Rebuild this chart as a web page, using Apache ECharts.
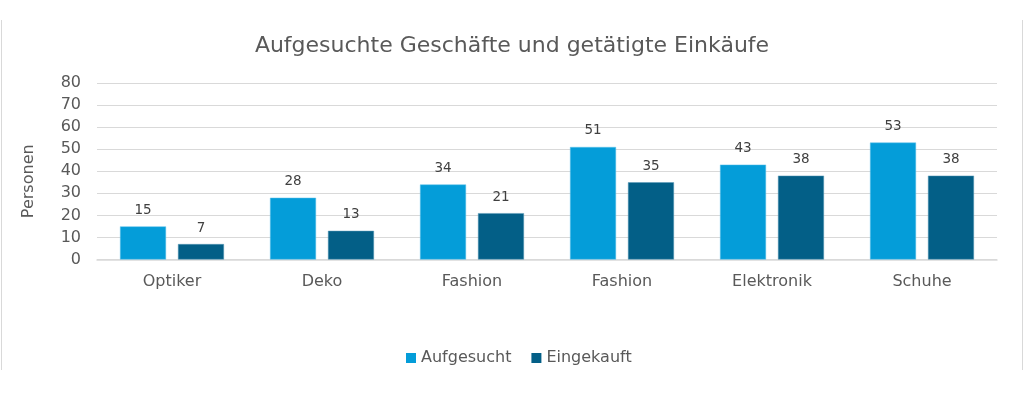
<!DOCTYPE html>
<html>
<head>
<meta charset="utf-8">
<script src="https://cdn.jsdelivr.net/npm/echarts@6/dist/echarts.min.js"></script>
<style>
html,body{margin:0;padding:0;background:#fff;}
#chart{width:1024px;height:399px;}
</style>
</head>
<body>
<div id="chart"></div>
<script>
const categories = ['Optiker', 'Deko', 'Fashion', 'Fashion', 'Elektronik', 'Schuhe'];
const aufgesucht = [15, 28, 34, 51, 43, 53];
const eingekauft = [7, 13, 21, 35, 38, 38];
const yTicks = [0, 10, 20, 30, 40, 50, 60, 70, 80];

const FONT = '"DejaVu Sans", Verdana, sans-serif';
const chart = echarts.init(document.getElementById('chart'), null, {renderer: 'canvas'});
chart.setOption({
  animation: false,
  backgroundColor: '#ffffff',
  textStyle: {fontFamily: FONT},
  title: {
    text: 'Aufgesuchte Geschäfte und getätigte Einkäufe',
    left: 'center',
    top: 30,
    textStyle: {fontFamily: FONT, fontSize: 22, fontWeight: 'normal', color: '#595959'}
  },
  legend: {
    data: ['Aufgesucht', 'Eingekauft'],
    left: 401,
    top: 345,
    itemWidth: 10,
    itemHeight: 10,
    itemGap: 20,
    icon: 'rect',
    itemStyle: {borderWidth: 0},
    textStyle: {fontFamily: FONT, fontSize: 16, color: '#595959'}
  },
  grid: {left: 97, right: 27, top: 83, bottom: 139.5, containLabel: false},
  xAxis: {
    type: 'category',
    data: categories,
    axisTick: {show: false},
    axisLine: {lineStyle: {color: '#d9d9d9', width: 1.5}},
    axisLabel: {fontFamily: FONT, fontSize: 16, color: '#595959', margin: 14}
  },
  yAxis: {
    type: 'value',
    min: yTicks[0],
    max: yTicks[yTicks.length - 1],
    interval: 10,
    name: 'Personen',
    nameLocation: 'middle',
    nameGap: 60,
    nameRotate: 90,
    nameTextStyle: {fontFamily: FONT, fontSize: 16, color: '#595959', padding: [0, 0, 0, -20]},
    axisLine: {show: false},
    axisTick: {show: false},
    axisLabel: {fontFamily: FONT, fontSize: 16, color: '#595959', margin: 16},
    splitLine: {lineStyle: {color: '#d9d9d9', width: 1.2}}
  },
  series: [
    {
      name: 'Aufgesucht',
      type: 'bar',
      data: aufgesucht,
      barWidth: 46,
      barGap: '26%',
      itemStyle: {color: '#049dd9', borderColor: '#5fc3ea', borderWidth: 0.5},
      label: {show: true, position: 'top', distance: 9, fontFamily: FONT, fontSize: 13.5, color: '#404040'}
    },
    {
      name: 'Eingekauft',
      type: 'bar',
      data: eingekauft,
      barWidth: 46,
      itemStyle: {color: '#035f87', borderColor: '#5a9bb8', borderWidth: 0.5},
      label: {show: true, position: 'top', distance: 9, fontFamily: FONT, fontSize: 13.5, color: '#404040'}
    }
  ],
  graphic: [
    {type: 'line', shape: {x1: 1.5, y1: 20, x2: 1.5, y2: 370}, style: {stroke: '#d9d9d9', lineWidth: 1}},
    {type: 'line', shape: {x1: 1022.5, y1: 20, x2: 1022.5, y2: 370}, style: {stroke: '#d9d9d9', lineWidth: 1}}
  ]
});
</script>
</body>
</html>
